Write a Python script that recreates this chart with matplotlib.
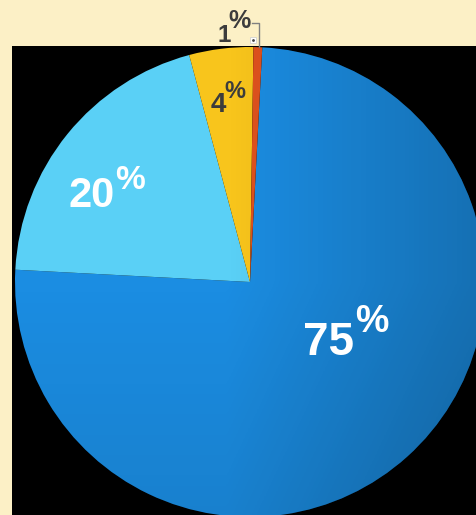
import matplotlib.pyplot as plt
import numpy as np
from matplotlib.patches import Circle

# shares, clockwise from the top
shares = [75, 20, 4.4, 0.6]
colors = ['#1b8de2', '#5ad0f6', '#f8c51c', '#e0521e']
labels = ['%d' % round(s) for s in shares]

W, H = 477, 515
fig = plt.figure(figsize=(W / 100, H / 100), dpi=100)
fig.patch.set_facecolor('#fcf0c6')

# black plot area, data units = pixels (y up)
ax = fig.add_axes([12 / W, 0, (W - 12) / W, (H - 46) / H])
ax.set_facecolor('black')
for s in ax.spines.values():
    s.set_visible(False)

cx, cy, r = 250, H - 282, 235
wedges, _ = ax.pie(shares, colors=colors, startangle=87, counterclock=False,
                   center=(cx, cy), radius=r, frame=True,
                   wedgeprops=dict(linewidth=0))
ax.set_xticks([])
ax.set_yticks([])

# soft shading, darker toward the right and the bottom
gx, gy = np.meshgrid(np.linspace(0, 1, 200), np.linspace(0, 1, 200))
shade = np.clip((gx - 0.45) / 0.55, 0, 1) * 0.7 + np.clip((gy - 0.5) / 0.5, 0, 1) * 0.3
rgba = np.zeros((200, 200, 4))
rgba[..., 3] = 0.3 * shade
img = ax.imshow(rgba, extent=(cx - r, cx + r, cy - r, cy + r), origin='upper',
                zorder=2, aspect='auto')
img.set_clip_path(Circle((cx, cy), r, transform=ax.transData))
ax.set_xlim(12, W)
ax.set_ylim(0, H - 46)
ax.set_aspect('equal')

def lab(x, y, num, px, py, size, psize, color):
    ax.text(x, H - y, num, ha='center', va='baseline', fontsize=size,
            fontweight='bold', family='Liberation Sans', color=color,
            zorder=5, clip_on=False)
    ax.text(px, H - py, '%', ha='center', va='baseline', fontsize=psize,
            fontweight='bold', family='Liberation Sans', color=color,
            zorder=5, clip_on=False)

lab(329, 355, labels[0], 372, 332, 33, 27, 'white')
lab(92, 207, labels[1], 130, 189, 30, 24, 'white')
lab(218, 112, labels[2], 235, 98, 20, 17, '#3c3c3c')
lab(224, 42, labels[3], 240, 28, 17.5, 18, '#3c3c3c')

# leader for the smallest slice
ax.plot([252, 259, 259], [H - 23, H - 23, H - 47], color='#808080',
        lw=1, clip_on=False, zorder=5)
ax.plot([253.5], [H - 39.5], marker='s', ms=4, mfc='white', mec='#cccccc',
        mew=0.5, clip_on=False, zorder=5)
ax.plot([253.5], [H - 39.5], marker='.', ms=2, color='#444444',
        clip_on=False, zorder=6)

fig.savefig('out.png', dpi=100, facecolor=fig.get_facecolor())
